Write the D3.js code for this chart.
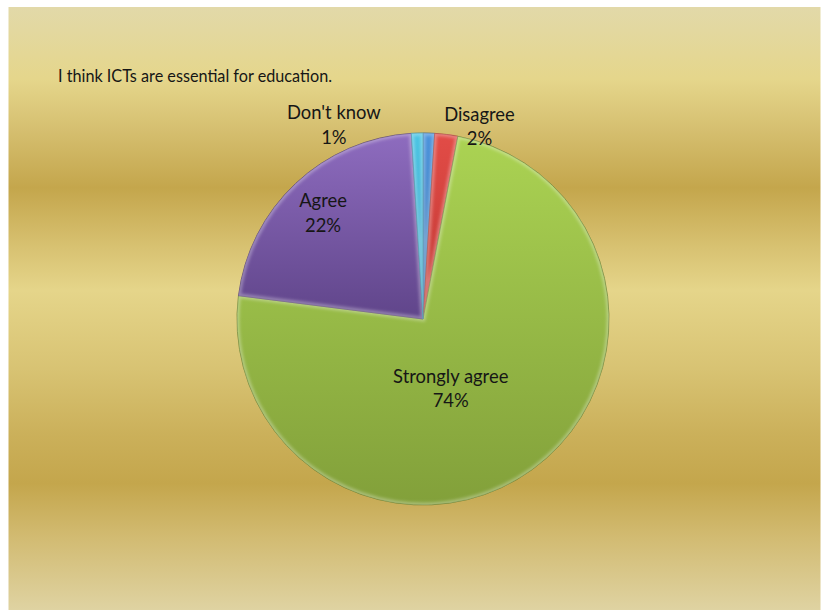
<!DOCTYPE html>
<html>
<head>
<meta charset="utf-8">
<script src="https://cdn.jsdelivr.net/npm/d3@7"></script>
<style>
  body { margin: 0; background: #ffffff; }
  text { font-family: Lato, "Open Sans", sans-serif; fill: #161616; }
</style>
</head>
<body>
<svg id="chart" width="821" height="610"></svg>
<script>
// Survey answers, in the order the slices run clockwise from 12 o'clock
const categories = ["Strongly disagree", "Disagree", "Strongly agree", "Agree", "Don't know"];
const shares = [1, 2, 74, 22, 1];
const labelled = [false, true, true, true, true];
const title = "I think ICTs are essential for education.";

// Fill for each slice: lighter at its top edge, darker toward its bottom
const palette = {
  "Strongly disagree": { top: "#4b93dc", bottom: "#2f6cab", edge: "#27598e" },
  "Disagree":          { top: "#e24c47", bottom: "#bf3732", edge: "#9a2a26" },
  "Strongly agree":    { top: "#abd353", bottom: "#82a03a", edge: "#5f7a26" },
  "Agree":             { top: "#8e6cbf", bottom: "#60458a", edge: "#4c366e" },
  "Don't know":        { top: "#4cc4e3", bottom: "#2d9cbf", edge: "#23809e" }
};

// Where each label sits: fraction of the radius along the slice's mid-angle, plus a nudge
const labelLayout = {
  "Disagree":       { rf: 1.05, dx: 32,  dy: 1 },
  "Strongly agree": { rf: 0.40, dx: -16, dy: 9 },
  "Agree":          { rf: 0.785, dx: 0,  dy: 0 },
  "Don't know":     { rf: 1.05, dx: -83, dy: 1 }
};

const svg = d3.select("#chart");
const W = 821, H = 610;
const cx = 423, cy = 319, R = 186;

const defs = svg.append("defs");

// Background: horizontal gold bands
const bg = defs.append("linearGradient")
  .attr("id", "bg").attr("x1", 0).attr("y1", 0).attr("x2", 0).attr("y2", 1);
[
  [0.00, "#e2d9a9"], [0.12, "#e5d68b"], [0.20, "#d6c071"], [0.30, "#c4a64c"],
  [0.40, "#d8c272"], [0.47, "#e5d58a"], [0.60, "#d8c373"], [0.71, "#cbb05a"],
  [0.79, "#c4a64c"], [0.88, "#d2bb72"], [1.00, "#dfd3a2"]
].forEach(([o, c]) => bg.append("stop").attr("offset", o).attr("stop-color", c));

svg.append("rect")
  .attr("x", 8.5).attr("y", 7).attr("width", W - 9).attr("height", H - 7)
  .attr("fill", "url(#bg)");

// Title, set slightly condensed
svg.append("text")
  .attr("x", 58).attr("y", 82)
  .attr("font-size", 17.5)
  .attr("textLength", 274)
  .attr("lengthAdjust", "spacingAndGlyphs")
  .text(title);

// Pie
const data = categories.map((c, i) => ({ category: c, value: shares[i], labelled: labelled[i] }));
const pie = d3.pie().value(d => d.value).sort(null);
const arcs = pie(data);
const arc = d3.arc().innerRadius(0).outerRadius(R);

const g = svg.append("g").attr("transform", `translate(${cx},${cy})`);

const blur = defs.append("filter").attr("id", "soft")
  .attr("x", "-20%").attr("y", "-20%").attr("width", "140%").attr("height", "140%");
blur.append("feGaussianBlur").attr("stdDeviation", 1.4);

arcs.forEach((a, i) => {
  const p = palette[a.data.category];
  const gid = "fill" + i, cid = "clip" + i;
  const grad = defs.append("linearGradient").attr("id", gid)
    .attr("x1", 0).attr("y1", 0).attr("x2", 0).attr("y2", 1);
  grad.append("stop").attr("offset", 0).attr("stop-color", p.top);
  grad.append("stop").attr("offset", 1).attr("stop-color", p.bottom);

  defs.append("clipPath").attr("id", cid)
    .attr("transform", `translate(${cx},${cy})`)
    .append("path").attr("d", arc(a));

  g.append("path")
    .attr("d", arc(a))
    .attr("fill", `url(#${gid})`)
    .attr("stroke", p.edge)
    .attr("stroke-width", 1)
    .attr("stroke-opacity", 0.75);

  // soft bevel highlight along the inside of each slice's outline
  svg.append("g").attr("clip-path", `url(#${cid})`)
    .append("path")
    .attr("transform", `translate(${cx},${cy})`)
    .attr("d", arc(a))
    .attr("fill", "none")
    .attr("stroke", "#ffffff")
    .attr("stroke-opacity", 0.3)
    .attr("stroke-width", 5)
    .attr("filter", "url(#soft)");
});

// Labels: category name above its percentage
const fmt = v => d3.format(".0f")(v) + "%";
const total = d3.sum(shares);
arcs.filter(a => a.data.labelled).forEach(a => {
  const L = labelLayout[a.data.category];
  const mid = (a.startAngle + a.endAngle) / 2;
  const x = cx + Math.sin(mid) * R * L.rf + L.dx;
  const y = cy - Math.cos(mid) * R * L.rf + L.dy;
  const t = svg.append("text")
    .attr("text-anchor", "middle")
    .attr("font-size", 18.4);
  t.append("tspan").attr("x", x).attr("y", y - 5.5).text(a.data.category);
  t.append("tspan").attr("x", x).attr("y", y + 19).text(fmt(a.data.value / total * 100));
});
</script>
</body>
</html>
